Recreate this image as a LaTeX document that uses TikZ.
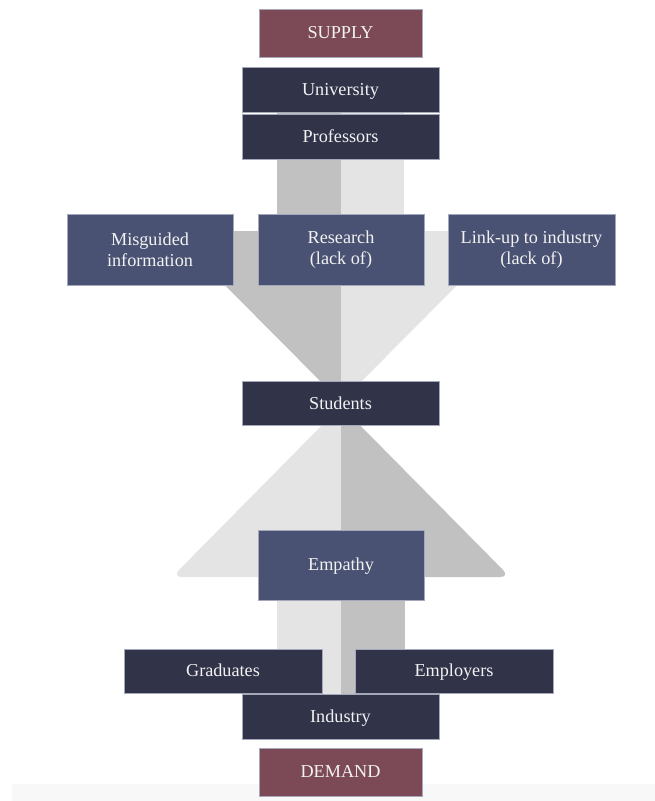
\documentclass[tikz,border=0pt]{standalone}
\usepackage{fontspec}
\setmainfont{Liberation Serif}
\definecolor{maroon}{HTML}{7B4A56}
\definecolor{navy}{HTML}{313349}
\definecolor{slate}{HTML}{4A5274}
\definecolor{gdark}{HTML}{C1C1C1}
\definecolor{glight}{HTML}{E4E4E4}
\definecolor{band}{HTML}{F8F8F8}
\definecolor{edge}{HTML}{A4A8BA}
\definecolor{txt}{HTML}{F2F2F2}
\begin{document}
\begin{tikzpicture}[x=1pt,y=-1pt,
  box/.style={draw=edge, line width=0.7pt, text=txt, inner sep=0pt, align=center,
    font=\fontsize{18.2}{21}\selectfont},
  one/.style={text height=14pt, text depth=3pt},
  bmaroon/.style={box, one, fill=maroon},
  bnavy/.style={box, one, fill=navy},
  bslate/.style={box, fill=slate}]
\useasboundingbox (0,0) rectangle (655,801);
% bottom band
\fill[band] (12,784) rectangle (655,801);
% upper bar
\fill[gdark] (277,100) rectangle (341,232);
\fill[glight] (341,100) rectangle (404,232);
% upper funnel
\fill[gdark] (171,231) -- (341,231) -- (341,402) -- cycle;
\fill[glight] (341,231) -- (511,231) -- (341,402) -- cycle;
% lower arrow
\fill[glight] (341,406) [rounded corners=10pt] -- (172,577) [sharp corners] -- (341,577) -- cycle;
\fill[gdark] (341,406) [rounded corners=10pt] -- (510,577) [sharp corners] -- (341,577) -- cycle;
% lower bar
\fill[glight] (277,577) rectangle (341,700);
\fill[gdark] (341,577) rectangle (405,700);
% nodes
\node[bmaroon, minimum width=163pt, minimum height=48pt] (supply) at (340.5,33) {SUPPLY};
\node[bnavy, minimum width=197pt, minimum height=45pt] (univ) at (340.5,89.5) {University};
\node[bnavy, minimum width=197pt, minimum height=45pt] (prof) at (340.5,136.5) {Professors};
\node[bslate, minimum width=166pt, minimum height=71pt] (mis) at (150,249.5) {Misguided\\information};
\node[bslate, minimum width=166pt, minimum height=71pt] (res) at (341,249.5) {Research\\(lack of)};
\node[bslate, minimum width=167pt, minimum height=71pt] (link) at (531.5,249.5) {Link-up to industry\\(lack of)};
\node[bnavy, minimum width=197pt, minimum height=44pt] (stud) at (340.5,403.5) {Students};
\node[bslate, one, minimum width=166pt, minimum height=70pt] (emp) at (341,565) {Empathy};
\node[bnavy, minimum width=198pt, minimum height=44pt] (grad) at (223,671) {Graduates};
\node[bnavy, minimum width=198pt, minimum height=44pt] (empl) at (454,671) {Employers};
\node[bnavy, minimum width=197pt, minimum height=45pt] (ind) at (340.5,716.5) {Industry};
\node[bmaroon, minimum width=163pt, minimum height=48pt] (dem) at (340.5,772) {DEMAND};
\end{tikzpicture}
\end{document}
